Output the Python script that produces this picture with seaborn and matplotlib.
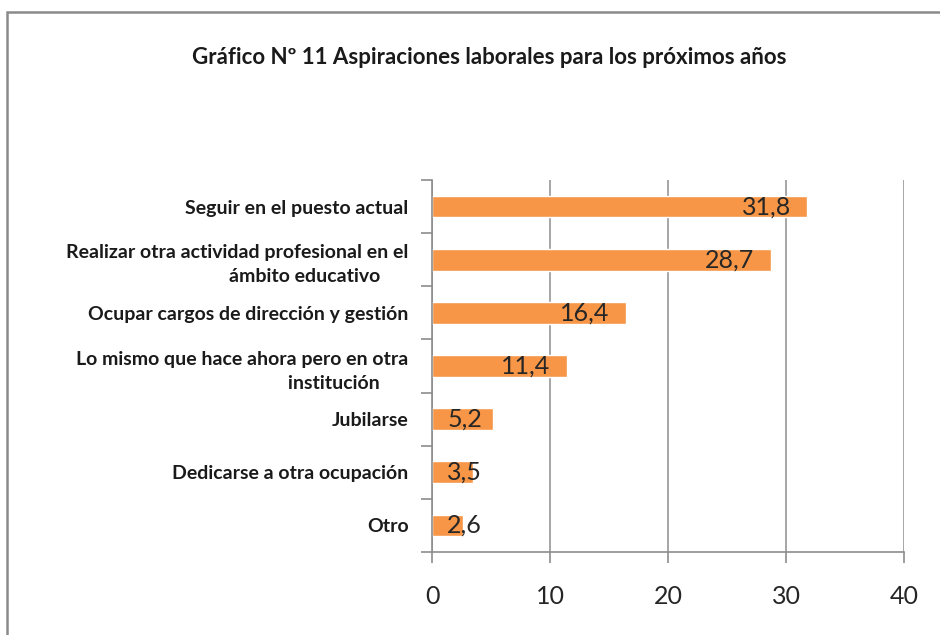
import numpy as np
import pandas as pd
import seaborn as sns
import matplotlib.pyplot as plt
import matplotlib.patches as mpatches

categorias = [
    "Seguir en el puesto actual",
    "Realizar otra actividad profesional en el\námbito educativo      ",
    "Ocupar cargos de dirección y gestión",
    "Lo mismo que hace ahora pero en otra\ninstitución      ",
    "Jubilarse",
    "Dedicarse a otra ocupación",
    "Otro",
]
porcentajes = [31.8, 28.7, 16.4, 11.4, 5.2, 3.5, 2.6]
etiquetas = ["31,8", "28,7", "16,4", "11,4", "5,2", "3,5", "2,6"]
ticks_x = [0, 10, 20, 30, 40]

df = pd.DataFrame({"cat": categorias, "val": porcentajes})

sns.set_style("white")
plt.rcParams['font.family'] = ['Lato', 'DejaVu Sans']

fig = plt.figure(figsize=(9.4, 6.35), dpi=100)
ax = fig.add_axes([0.4596, 0.1307, 0.5021, 0.5858])

sns.barplot(data=df, x="val", y="cat", orient="h", color="#F79646",
            saturation=1, width=0.41, ax=ax, order=categorias)

ax.set_xlim(0, 40)
ax.set_ylim(6.5, -0.5)
ax.set_xticks(ticks_x)
ax.set_xticklabels([str(t) for t in ticks_x], fontsize=18, color="#262626")
ax.tick_params(axis="x", bottom=True, length=8, width=1.2, color="#8c8c8c", pad=16, direction="out")
ax.xaxis.grid(True, color="#a6a6a6", linewidth=1.4)
ax.set_axisbelow(True)

# categorias: etiquetas sin marca, marcas en los limites
ax.set_yticks(range(len(categorias)))
ax.set_yticklabels(categorias, fontsize=14, fontweight="bold", color="#1a1a1a")
for lab in ax.get_yticklabels():
    lab.set_multialignment("right")
    lab.set_linespacing(1.5)
ax.tick_params(axis="y", which="major", left=True, length=0, pad=17)
ax.set_yticks(np.arange(-0.5, len(categorias), 1), minor=True)
ax.tick_params(axis="y", which="minor", left=True, length=8, width=1.2, color="#8c8c8c", direction="out")

for s in ["top", "right"]:
    ax.spines[s].set_visible(False)
for s in ["left", "bottom"]:
    ax.spines[s].set_color("#8c8c8c")
    ax.spines[s].set_linewidth(1.2)

ax.set_xlabel("")
ax.set_ylabel("")

for i, (v, t) in enumerate(zip(porcentajes, etiquetas)):
    if v < 8:
        ax.text(1.3, i, t, ha="left", va="center", fontsize=18, color="#262626")
    else:
        ax.text(v - 1.4, i, t, ha="right", va="center", fontsize=18, color="#262626")

fig.text(0.52, 0.91, "Gráfico Nº 11 Aspiraciones laborales para los próximos años",
         ha="center", va="center", fontsize=16, fontweight="bold", color="#1a1a1a")

# marco del grafico
marco = mpatches.Rectangle((7 / 940, -0.05), 1.2, 1.05 - 12 / 635, transform=fig.transFigure,
                           fill=False, edgecolor="#8a8a8a", linewidth=1.8)
fig.patches.append(marco)

plt.savefig("out.png", dpi=100)
